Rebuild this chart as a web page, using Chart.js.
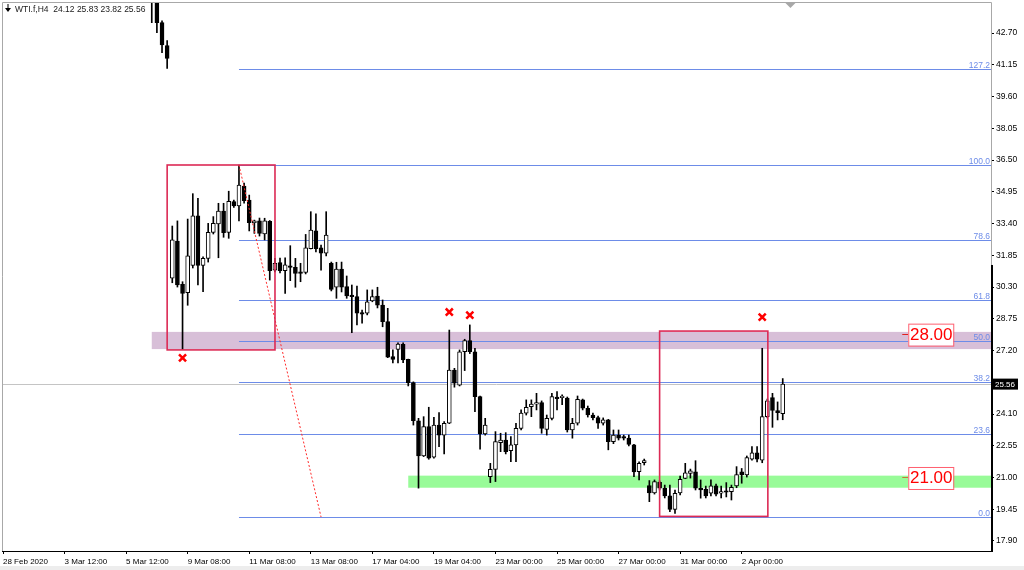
<!DOCTYPE html>
<html><head><meta charset="utf-8">
<script src="https://cdn.jsdelivr.net/npm/chart.js@4.4.1/dist/chart.umd.min.js"></script>
<style>html,body{margin:0;padding:0;background:#fff;overflow:hidden}canvas{display:block}</style>
</head><body>
<canvas id="c" width="1024" height="570"></canvas>
<script>
// ---------- data ----------
const symbol = 'WTI.f,H4';
const firstBar = 29;
const opens = [
45.00,44.30,43.21,42.09,30.73,32.55,30.43,30.02,31.36,33.78,
31.36,31.70,32.97,33.38,34.01,32.97,34.47,34.26,35.23,34.55,
33.44,33.53,32.89,33.51,31.13,31.49,31.10,31.33,31.26,31.02,
31.02,32.17,33.04,32.22,31.95,31.46,30.29,31.18,30.32,29.91,
29.83,29.02,29.02,29.62,29.86,29.42,28.61,26.90,27.26,27.50,
26.77,25.63,23.77,22.05,23.48,21.99,23.56,23.07,23.65,26.25,
25.51,27.14,27.68,27.14,24.95,23.13,21.04,21.40,22.70,22.83,
22.31,22.59,23.40,24.14,24.46,24.58,24.66,23.35,23.89,24.92,
24.90,24.88,23.32,23.65,24.79,24.38,24.05,23.92,23.65,23.81,
22.75,23.07,23.00,22.92,22.59,21.28,21.72,20.60,20.25,20.76,
20.48,20.10,19.44,20.25,20.96,21.20,21.28,20.48,20.43,20.23,
20.59,20.23,20.31,20.31,20.59,21.28,21.13,21.89,22.21,21.85,
23.97,24.90,24.27,24.12];
const highs = [
45.60,44.60,43.30,42.33,33.28,33.53,30.56,33.62,34.86,34.63,
31.78,33.41,33.74,34.39,34.39,34.98,34.55,36.26,35.38,34.79,
33.57,33.67,33.66,33.55,31.70,31.72,31.73,32.32,31.70,31.46,
32.87,33.98,33.87,32.35,33.98,31.52,31.51,31.52,30.84,30.40,
30.35,29.18,30.16,30.16,30.29,29.67,29.26,27.23,27.58,27.57,
26.78,25.67,23.89,23.97,24.43,23.94,24.17,23.73,28.20,26.33,
27.23,27.75,28.45,27.31,24.98,23.89,21.69,23.24,23.16,23.19,
23.00,23.65,24.30,24.79,24.79,25.11,24.74,24.05,25.11,25.19,
25.04,24.93,23.89,24.98,24.83,24.49,24.15,24.00,23.91,23.84,
23.32,23.32,23.07,23.07,22.62,21.77,21.90,20.85,20.88,20.83,
20.63,20.63,20.39,21.07,21.69,21.41,21.82,20.88,20.58,20.88,
20.68,20.58,20.75,20.63,21.53,21.44,22.05,22.51,22.51,27.31,
24.83,25.11,24.69,25.83];
const lows = [
43.21,42.72,41.74,40.98,30.51,30.30,27.26,29.41,31.23,30.40,
30.07,31.52,32.89,31.73,32.73,32.68,34.19,33.53,34.40,33.04,
32.92,32.79,32.60,30.64,31.04,30.99,29.99,30.61,30.29,30.56,
30.94,32.16,32.01,31.13,31.82,30.11,29.75,30.06,29.75,28.07,
28.45,28.53,28.94,29.58,29.28,28.36,26.85,26.59,26.59,26.61,
25.47,23.56,20.48,22.02,21.89,21.94,22.51,22.15,23.63,25.41,
25.47,26.22,27.05,24.21,22.38,23.07,20.75,20.80,22.26,22.15,
21.77,21.77,23.32,24.05,23.97,24.30,23.16,23.07,23.81,24.30,
24.56,23.22,22.92,23.56,24.30,23.95,23.81,23.40,23.56,22.35,
22.65,22.83,22.83,22.54,21.04,20.88,21.61,19.82,20.19,20.39,
20.00,19.33,19.25,20.15,20.94,20.97,20.39,19.99,20.00,20.10,
20.10,20.00,20.05,19.90,20.50,20.72,21.02,21.85,21.76,21.72,
23.91,23.45,23.81,23.82];
const closes = [
44.30,43.21,42.12,41.47,32.60,30.40,29.99,31.82,33.78,31.36,
31.70,32.97,33.41,34.01,32.95,34.49,34.26,35.28,34.52,33.44,
33.53,32.92,33.53,31.10,31.46,31.10,31.38,31.26,30.97,30.97,
32.22,33.08,32.17,31.95,32.84,30.19,31.18,30.29,29.87,29.83,
29.02,28.98,29.58,29.83,29.42,28.61,26.88,26.77,27.52,26.74,
25.63,23.77,22.05,23.48,21.94,23.56,23.07,23.65,26.25,25.60,
27.14,27.68,27.14,24.95,23.13,23.56,21.40,22.75,22.83,22.26,
22.59,23.40,24.14,24.43,24.58,24.66,23.40,23.89,24.95,24.85,
24.92,23.32,23.65,24.82,24.38,24.05,23.92,23.65,23.81,22.75,
23.07,22.92,22.92,22.62,21.27,21.69,21.82,20.25,20.80,20.48,
20.10,19.44,20.23,20.91,21.23,21.33,20.48,20.39,20.10,20.59,
20.19,20.31,20.28,20.52,21.14,21.14,21.97,22.21,21.89,23.97,
24.74,24.27,24.17,25.56];

const xTickIdx = [0,12,24,36,48,60,72,84,96,108,120,132,144];
const xTickLabels = ["28 Feb 2020","3 Mar 12:00","5 Mar 12:00","9 Mar 08:00","11 Mar 08:00","13 Mar 08:00","17 Mar 04:00","19 Mar 04:00","23 Mar 00:00","25 Mar 00:00","27 Mar 00:00","31 Mar 00:00","2 Apr 00:00"];
const yTickLabels = ["17.90","19.45","21.00","22.55","24.10","27.20","28.75","30.30","31.85","33.40","34.95","36.50","38.05","39.60","41.15","42.70"];

const fibStartIdx = 46;
const fibLabels = ["0.0","23.6","38.2","50.0","61.8","78.6","100.0","127.2"];
const fibPrices = [19.07,23.13,25.64,27.66,29.69,32.58,36.26,40.94];
const fibTrendIdx = [46,62];
const fibTrendPrices = [36.26,19.07];

const bandStartIdx = [29,79];
const bandLows = [27.27,20.50];
const bandHighs = [28.11,21.09];

const boxStartIdx = [32,128];
const boxEndIdx = [53.02,149.1];
const boxHighs = [36.26,28.15];
const boxLows = [27.23,19.10];

const markIdx = [35,87,91,148];
const markPrices = [26.84,29.08,28.93,28.83];

const levelTexts = ["28.00","21.00"];
const levelPrices = [28.00,21.00];
const levelIdx = 175.3;

// ---------- styling ----------
const FONT = '"Liberation Sans", Arial, sans-serif';
const FIB = '#6d8ce8';
const BOX = '#dc2a55';
Chart.defaults.font.family = FONT;
Chart.defaults.font.size = 8;
Chart.defaults.color = '#000';

const idx = opens.map((_, k) => firstBar + k);
const wickData = idx.map((i, k) => ({x: i, y: [lows[k], highs[k]]}));
const bodyData = idx.map((i, k) => ({x: i, y: [opens[k], closes[k]]}));
const bodyFill = opens.map((o, k) => closes[k] >= o ? '#ffffff' : '#000000');
const last = opens.length - 1;

const drawings = {
  id: 'drawings',
  beforeDatasetsDraw(chart) {
    const {ctx, chartArea: a, scales: {x, y}} = chart;
    ctx.save();
    ctx.beginPath(); ctx.rect(a.left, a.top, a.right - a.left, a.bottom - a.top); ctx.clip();
    const bandColors = ['#d8bfd8', '#98fb98'];
    bandStartIdx.forEach((s, k) => {
      const x0 = x.getPixelForValue(s);
      const y0 = y.getPixelForValue(bandHighs[k]);
      const y1 = y.getPixelForValue(bandLows[k]);
      ctx.fillStyle = bandColors[k];
      ctx.fillRect(x0, y0, a.right - x0, y1 - y0);
    });
    // current price line
    const py = Math.round(y.getPixelForValue(closes[last])) + 0.5;
    ctx.strokeStyle = '#c4c4c4'; ctx.lineWidth = 1;
    ctx.beginPath(); ctx.moveTo(a.left, py); ctx.lineTo(a.right, py); ctx.stroke();
    // fibonacci levels
    const fx = x.getPixelForValue(fibStartIdx);
    ctx.font = '8.5px ' + FONT; ctx.textAlign = 'right'; ctx.textBaseline = 'alphabetic';
    fibPrices.forEach((p, k) => {
      const yy = Math.round(y.getPixelForValue(p)) + 0.5;
      ctx.strokeStyle = FIB;
      ctx.beginPath(); ctx.moveTo(fx, yy); ctx.lineTo(a.right, yy); ctx.stroke();
      ctx.fillStyle = FIB;
      ctx.fillText(fibLabels[k], a.right - 1, yy - 1.5);
    });
    ctx.restore();
  },
  afterDatasetsDraw(chart) {
    const {ctx, chartArea: a, scales: {x, y}} = chart;
    ctx.save();
    ctx.beginPath(); ctx.rect(a.left, a.top, a.right - a.left, a.bottom - a.top); ctx.clip();
    ctx.strokeStyle = BOX; ctx.lineWidth = 1.6;
    boxStartIdx.forEach((s, k) => {
      const x0 = x.getPixelForValue(s), x1 = x.getPixelForValue(boxEndIdx[k]);
      const y0 = y.getPixelForValue(boxHighs[k]), y1 = y.getPixelForValue(boxLows[k]);
      ctx.strokeRect(x0, y0, x1 - x0, y1 - y0);
    });
    // level labels
    const ax = x.getPixelForValue(levelIdx);
    levelTexts.forEach((t, k) => {
      const yy = y.getPixelForValue(levelPrices[k]);
      ctx.strokeStyle = k === 0 ? '#e02020' : '#c87838'; ctx.lineWidth = 1;
      ctx.beginPath(); ctx.moveTo(ax, Math.round(yy) + 0.5); ctx.lineTo(ax + 6, Math.round(yy) + 0.5); ctx.stroke();
      const bx = ax + 6, bw = 45, bt = yy - 10.5, bh = 22;
      ctx.fillStyle = '#ffffff'; ctx.fillRect(bx, bt, bw, bh);
      ctx.strokeStyle = '#ff6070'; ctx.strokeRect(bx + 0.5, bt + 0.5, bw, bh);
      ctx.fillStyle = '#ff0000'; ctx.font = '17px ' + FONT;
      ctx.textAlign = 'center'; ctx.textBaseline = 'middle';
      ctx.fillText(t, bx + bw / 2 + 0.5, yy + 1);
    });
    ctx.restore();
  },
  afterDraw(chart) {
    const {ctx, chartArea: a, scales: {x, y}} = chart;
    ctx.save();
    // frame
    ctx.strokeStyle = '#a8a8a8'; ctx.lineWidth = 1;
    ctx.beginPath();
    ctx.moveTo(a.left + 0.5, a.bottom); ctx.lineTo(a.left + 0.5, a.top + 0.5);
    ctx.lineTo(a.right + 0.5, a.top + 0.5); ctx.lineTo(a.right + 0.5, a.bottom);
    ctx.stroke();
    const splitY = a.top + (a.bottom - a.top) * 0.479;
    ctx.fillStyle = '#000';
    ctx.fillRect(a.right, splitY, 2, a.bottom - splitY + 1);
    // chart shift marker
    const sx = x.getPixelForValue(firstBar + last + 1.5);
    ctx.fillStyle = '#a8a8a8';
    ctx.beginPath(); ctx.moveTo(sx - 5, a.top + 1); ctx.lineTo(sx + 5, a.top + 1); ctx.lineTo(sx, a.top + 6); ctx.closePath(); ctx.fill();
    // price badge
    const py = y.getPixelForValue(closes[last]);
    ctx.fillStyle = '#000';
    ctx.fillRect(a.right + 1, py - 5.5, 26, 11);
    ctx.fillStyle = '#fff'; ctx.font = '8px ' + FONT; ctx.textAlign = 'left'; ctx.textBaseline = 'middle';
    ctx.fillText(closes[last].toFixed(2), a.right + 4, py + 0.5);
    // header
    ctx.fillStyle = '#000';
    ctx.beginPath(); ctx.moveTo(5, 8); ctx.lineTo(11, 8); ctx.lineTo(8, 12); ctx.closePath(); ctx.fill();
    ctx.fillRect(7.5, 4, 1, 5);
    ctx.fillStyle = '#1a1a1a'; ctx.font = '8.5px ' + FONT; ctx.textBaseline = 'alphabetic';
    ctx.fillText(symbol + '  ' + opens[last].toFixed(2) + ' ' + highs[last].toFixed(2) + ' ' + lows[last].toFixed(2) + ' ' + closes[last].toFixed(2), 15, 12);
    // bottom window strip
    ctx.fillStyle = '#ededed';
    ctx.fillRect(0, chart.height - 4, chart.width, 4);
    ctx.restore();
  }
};

new Chart(document.getElementById('c'), {
  type: 'bar',
  data: {
    datasets: [
      { type: 'scatter', data: markIdx.map((i, k) => ({x: i, y: markPrices[k]})),
        pointStyle: 'crossRot', pointRadius: 5, borderColor: '#ff0000', backgroundColor: '#ff0000', borderWidth: 2.5, order: 0 },
      { type: 'line', data: fibTrendIdx.map((i, k) => ({x: i, y: fibTrendPrices[k]})),
        borderColor: '#ff2a2a', borderWidth: 1, borderDash: [2, 2], pointRadius: 0, fill: false, tension: 0, order: 1 },
      { type: 'bar', data: bodyData, backgroundColor: bodyFill, borderColor: '#000', borderWidth: 1,
        borderSkipped: false, barThickness: 4, grouped: false, minBarLength: 1.5, order: 2 },
      { type: 'bar', data: wickData, backgroundColor: '#000', borderWidth: 0, barThickness: 1, grouped: false, order: 3 }
    ]
  },
  options: {
    responsive: false, animation: false, devicePixelRatio: 1, events: [],
    layout: { autoPadding: false, padding: { left: 2, top: 2, right: 0, bottom: 0 } },
    plugins: { legend: { display: false }, tooltip: { enabled: false } },
    scales: {
      x: {
        type: 'linear', position: 'bottom', min: -0.195, max: 192.6, offset: false,
        grid: { offset: false, drawOnChartArea: false, drawTicks: true, tickLength: 3, color: '#000', tickColor: '#000' },
        border: { display: true, color: '#000', width: 1 },
        ticks: { autoSkip: false, maxRotation: 0, minRotation: 0, align: 'start', padding: 3, color: '#000',
          font: { size: 8, family: FONT },
          callback: (v) => { const k = xTickIdx.indexOf(v); return k >= 0 ? xTickLabels[k] : ''; } },
        afterBuildTicks: (s) => { s.ticks = xTickIdx.map(v => ({ value: v })); },
        afterFit: (s) => { s.height = 19; s.paddingLeft = 0; s.paddingRight = 0; s.paddingTop = 0; s.paddingBottom = 0; }
      },
      y: {
        type: 'linear', position: 'right', min: 17.41, max: 44.22, offset: false,
        grid: { drawOnChartArea: false, drawTicks: true, tickLength: 3, color: '#000', tickColor: '#000' },
        border: { display: false },
        ticks: { autoSkip: false, padding: 2, color: '#000', font: { size: 8.5, family: FONT },
          callback: (v) => v.toFixed(2) },
        afterBuildTicks: (s) => { s.ticks = yTickLabels.map(t => ({ value: parseFloat(t) })); },
        afterFit: (s) => { s.width = 33; s.paddingTop = 0; s.paddingBottom = 0; s.paddingLeft = 0; s.paddingRight = 0; }
      }
    }
  },
  plugins: [drawings]
});
</script>
</body></html>
